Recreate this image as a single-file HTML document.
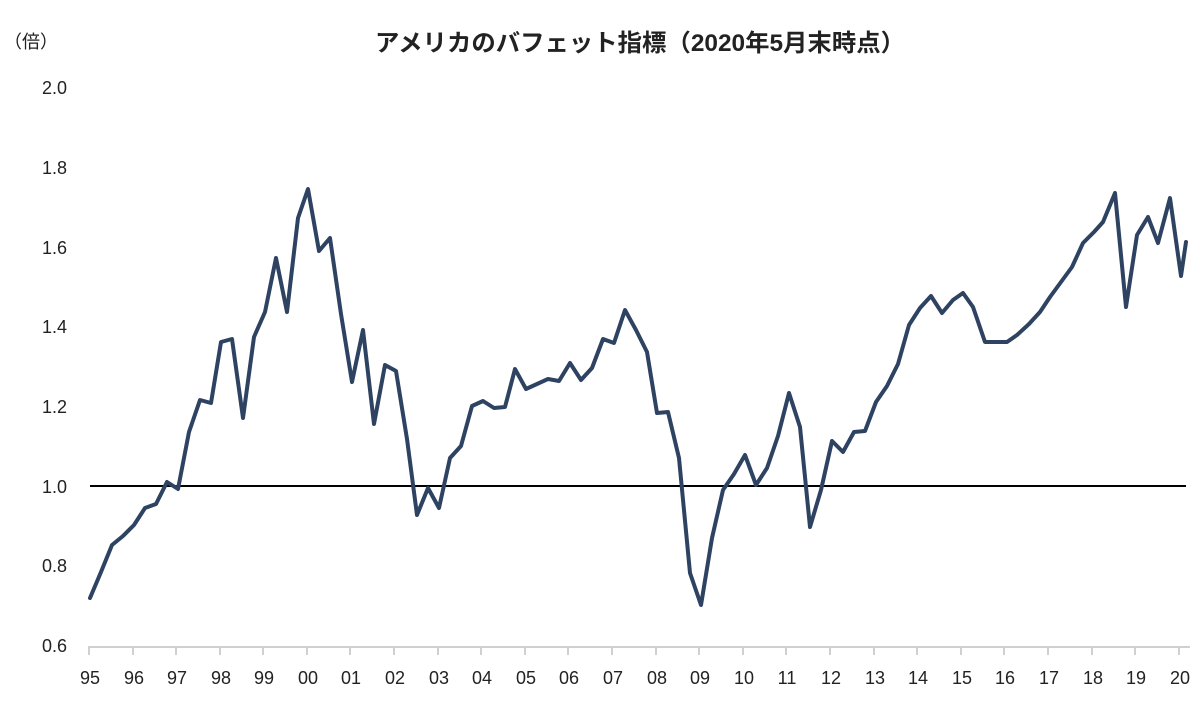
<!DOCTYPE html>
<html><head><meta charset="utf-8"><style>
body{margin:0;background:#fff;}
svg text{font-family:"Liberation Sans","Noto Sans CJK JP",sans-serif;fill:#222;}
</style></head><body>
<svg width="1200" height="707" viewBox="0 0 1200 707" xmlns="http://www.w3.org/2000/svg">
<text x="640" y="51" font-size="24" font-weight="bold" text-anchor="middle" fill="#333" textLength="530" lengthAdjust="spacingAndGlyphs">アメリカのバフェット指標（2020年5月末時点）</text>
<text x="4" y="48" font-size="18">（倍）</text>
<g font-size="18" text-anchor="end">
<text x="67" y="94">2.0</text><text x="67" y="174">1.8</text><text x="67" y="254">1.6</text>
<text x="67" y="333">1.4</text><text x="67" y="413">1.2</text><text x="67" y="493">1.0</text>
<text x="67" y="572">0.8</text><text x="67" y="652">0.6</text>
</g>
<line x1="88" y1="647" x2="1190" y2="647" stroke="#d0d0d0" stroke-width="2"/>
<g stroke="#d0d0d0" stroke-width="2">
<line x1="89" y1="647" x2="89" y2="655"/><line x1="133" y1="647" x2="133" y2="655"/><line x1="176" y1="647" x2="176" y2="655"/><line x1="220" y1="647" x2="220" y2="655"/><line x1="263" y1="647" x2="263" y2="655"/><line x1="307" y1="647" x2="307" y2="655"/><line x1="350" y1="647" x2="350" y2="655"/><line x1="394" y1="647" x2="394" y2="655"/><line x1="438" y1="647" x2="438" y2="655"/><line x1="481" y1="647" x2="481" y2="655"/><line x1="525" y1="647" x2="525" y2="655"/><line x1="568" y1="647" x2="568" y2="655"/><line x1="612" y1="647" x2="612" y2="655"/><line x1="656" y1="647" x2="656" y2="655"/><line x1="699" y1="647" x2="699" y2="655"/><line x1="743" y1="647" x2="743" y2="655"/><line x1="786" y1="647" x2="786" y2="655"/><line x1="830" y1="647" x2="830" y2="655"/><line x1="874" y1="647" x2="874" y2="655"/><line x1="917" y1="647" x2="917" y2="655"/><line x1="961" y1="647" x2="961" y2="655"/><line x1="1004" y1="647" x2="1004" y2="655"/><line x1="1048" y1="647" x2="1048" y2="655"/><line x1="1092" y1="647" x2="1092" y2="655"/><line x1="1135" y1="647" x2="1135" y2="655"/><line x1="1179" y1="647" x2="1179" y2="655"/>
</g>
<g font-size="18" text-anchor="middle">
<text x="90" y="684">95</text><text x="134" y="684">96</text><text x="177" y="684">97</text><text x="221" y="684">98</text><text x="264" y="684">99</text><text x="308" y="684">00</text><text x="351" y="684">01</text><text x="395" y="684">02</text><text x="439" y="684">03</text><text x="482" y="684">04</text><text x="526" y="684">05</text><text x="569" y="684">06</text><text x="613" y="684">07</text><text x="657" y="684">08</text><text x="700" y="684">09</text><text x="744" y="684">10</text><text x="787" y="684">11</text><text x="831" y="684">12</text><text x="875" y="684">13</text><text x="918" y="684">14</text><text x="962" y="684">15</text><text x="1005" y="684">16</text><text x="1049" y="684">17</text><text x="1093" y="684">18</text><text x="1136" y="684">19</text><text x="1180" y="684">20</text>
</g>
<line x1="90" y1="486" x2="1186" y2="486" stroke="#000" stroke-width="2"/>
<polyline fill="none" stroke="#2e4262" stroke-width="4" stroke-linejoin="round" stroke-linecap="round" points="90,598 101,572 112,545 123,536 134,525 145,508 156,504 167,482 178,489 189,432 200,400 211,403 221,342 232,339 243,418 254,337 265,312 276,258 287,312 298,218 308,189 319,251 330,238 341,314 352,382 363,330 374,424 385,365 396,371 407,439 417,515 428,488 439,508 450,458 461,446 472,406 483,401 494,408 505,407 515,369 526,389 537,384 548,379 559,381 570,363 581,380 592,368 603,339 614,343 625,310 636,330 647,352 657,413 668,412 679,458 690,573 701,605 712,538 723,490 734,474 745,455 756,485 767,468 778,436 789,393 800,427 810,527 821,490 832,441 843,452 854,432 865,431 876,402 887,386 898,364 909,325 920,308 931,296 942,313 953,300 963,293 973,307 985,342 996,342 1007,342 1017,335 1029,324 1040,312 1050,297 1061,282 1072,267 1083,243 1094,232 1103,222 1115,193 1126,307 1137,235 1148,217 1158,243 1170,198 1181,276 1186,242"/>
</svg>
</body></html>
